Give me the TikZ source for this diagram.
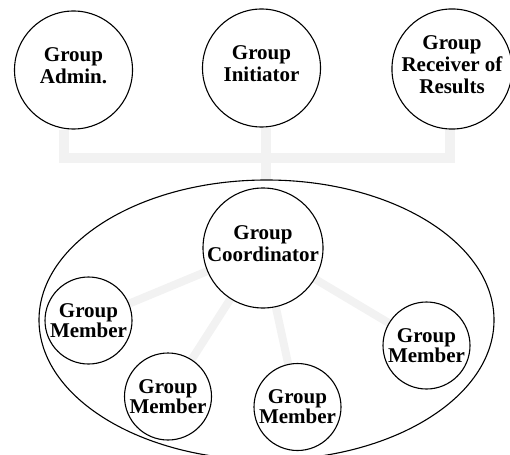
\documentclass[tikz,border=0pt]{standalone}
\usepackage{fontspec}
\setmainfont{Liberation Serif}
\usetikzlibrary{shapes.geometric,backgrounds}
\definecolor{conn}{HTML}{F2F2F2}
\begin{document}
\begin{tikzpicture}[x=1pt,y=-1pt,
  role/.style={circle,draw=black,line width=1.1pt,fill=white,inner sep=0pt,align=center,
    font=\bfseries\fontsize{21}{22}\selectfont},
  bigrole/.style={role,minimum size=118pt,text depth=8pt},
  member/.style={role,minimum size=87pt,font=\bfseries\fontsize{21}{17}\selectfont},
  link/.style={conn,line width=10pt},
  spoke/.style={conn,line width=8pt}]
\useasboundingbox (0,0) rectangle (510,454);
\node[bigrole] (admin) at (73.5,70) {Group\\Admin.};
\node[bigrole] (init) at (261.5,68) {Group\\Initiator};
\node[bigrole] (rec) at (452,69) {Group\\Receiver of\\Results};
\node[ellipse,draw=black,line width=1.1pt,minimum width=455pt,minimum height=280pt,inner sep=0pt] (grp) at (266.5,320) {};
\node[role,minimum size=120pt,text depth=8pt] (coord) at (263,248) {Group\\Coordinator};
\node[member] (m1) at (88.5,320.5) {Group\\Member};
\node[member] (m2) at (168,396.5) {Group\\Member};
\node[member] (m3) at (297.5,407) {Group\\Member};
\node[member] (m4) at (426.5,345.5) {Group\\Member};
\coordinate (jl) at (64,158);
\coordinate (jr) at (450,158);
\coordinate (jm) at (266,158);
\begin{pgfonlayer}{background}
\draw[link] (admin.south -| jl) -- (jl) -- (jr) -- (rec.south -| jr);
\draw[link] (init.south -| jm) -- (grp.north -| jm);
\foreach \m in {m1,m2,m3,m4} \draw[spoke] (coord.center) -- (\m.center);
\end{pgfonlayer}
\end{tikzpicture}
\end{document}
